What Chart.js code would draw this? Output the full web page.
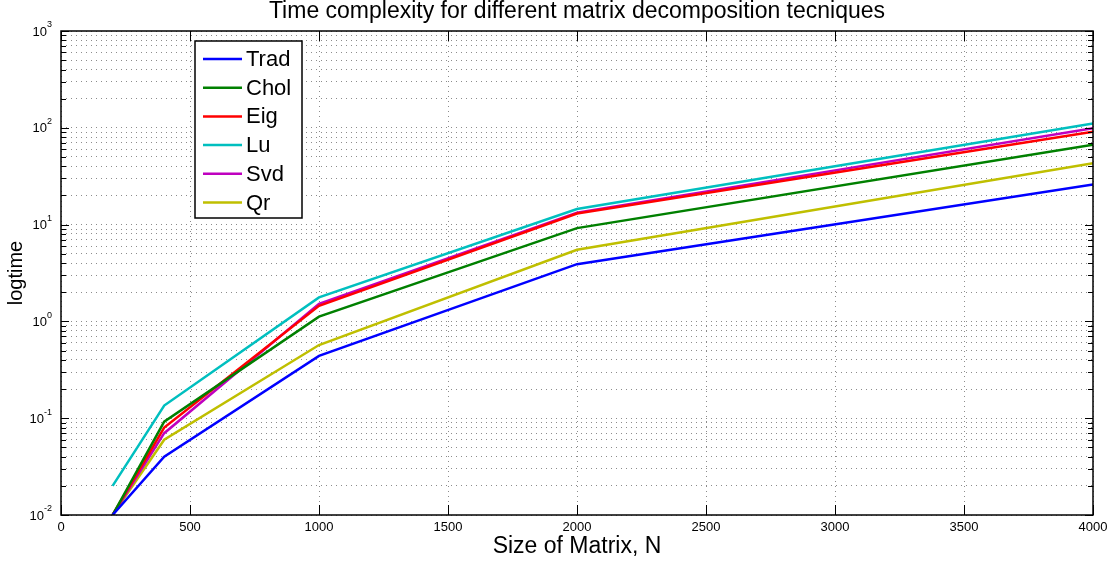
<!DOCTYPE html>
<html>
<head>
<meta charset="utf-8">
<script src="https://cdn.jsdelivr.net/npm/chart.js@4/dist/chart.umd.min.js"></script>
<style>
  html, body { margin: 0; padding: 0; background: #fff; }
  #wrap { width: 1111px; height: 565px; }
</style>
</head>
<body>
<div id="wrap"><canvas id="myChart"></canvas></div>
<script>
// matrix sizes and timings (seconds)
var sizes = [200, 400, 1000, 2000, 4000];
var trad = [0.01, 0.04, 0.44, 3.9, 26];
var chol = [0.01, 0.092, 1.12, 9.2, 67];
var eig  = [0.01, 0.08, 1.45, 13, 91];
var lu   = [0.02, 0.135, 1.77, 14.5, 111];
var svd  = [0.01, 0.07, 1.52, 13.3, 99];
var qr   = [0.01, 0.06, 0.57, 5.5, 43];

var seriesNames = ['Trad', 'Chol', 'Eig', 'Lu', 'Svd', 'Qr'];
var seriesData = [trad, chol, eig, lu, svd, qr];
var seriesColors = ['#0000ff', '#008000', '#ff0000', '#00bfbf', '#bf00bf', '#bfbf00'];

var xTicks = [0, 500, 1000, 1500, 2000, 2500, 3000, 3500, 4000];
var yDecades = [-2, -1, 0, 1, 2, 3];

var FONT = '"Liberation Sans", Arial, sans-serif';

function toPoints(vals) {
  return sizes.map(function (s, i) { return { x: s, y: vals[i] }; });
}

var datasets = seriesNames.map(function (name, i) {
  return {
    label: name,
    data: toPoints(seriesData[i]),
    borderColor: seriesColors[i],
    backgroundColor: seriesColors[i],
    borderWidth: 2.5,
    pointRadius: 0,
    tension: 0
  };
});

// log ticks: 1..9 x 10^n
function logTicks() {
  var t = [];
  for (var e = -2; e < 3; e++) {
    for (var m = 1; m < 10; m++) t.push({ value: m * Math.pow(10, e) });
  }
  t.push({ value: 1000 });
  return t;
}

// MATLAB-ish frame: box, inward ticks, labels, titles and legend
var matlabFrame = {
  id: 'matlabFrame',
  afterDraw: function (chart) {
    var ctx = chart.ctx;
    var a = chart.chartArea;
    var xs = chart.scales.x, ys = chart.scales.y;
    ctx.save();

    // box
    ctx.strokeStyle = '#000';
    ctx.lineWidth = 1.5;
    ctx.strokeRect(a.left, a.top, a.right - a.left, a.bottom - a.top);

    // ticks
    ctx.lineWidth = 1;
    ctx.beginPath();
    xTicks.forEach(function (v) {
      var px = Math.round(xs.getPixelForValue(v)) + 0.5;
      ctx.moveTo(px, a.bottom); ctx.lineTo(px, a.bottom - 10);
      ctx.moveTo(px, a.top); ctx.lineTo(px, a.top + 10);
    });
    logTicks().forEach(function (t) {
      var py = Math.round(ys.getPixelForValue(t.value)) + 0.5;
      var major = Math.abs(Math.log10(t.value) - Math.round(Math.log10(t.value))) < 1e-9;
      var len = major ? 8 : 5;
      ctx.moveTo(a.left, py); ctx.lineTo(a.left + len, py);
      ctx.moveTo(a.right, py); ctx.lineTo(a.right - len, py);
    });
    ctx.stroke();

    // x tick labels
    ctx.fillStyle = '#000';
    ctx.font = '13px ' + FONT;
    ctx.textAlign = 'center';
    ctx.textBaseline = 'top';
    xTicks.forEach(function (v) {
      ctx.fillText(String(v), xs.getPixelForValue(v), a.bottom + 6);
    });

    // y tick labels 10^n
    yDecades.forEach(function (e) {
      var py = ys.getPixelForValue(Math.pow(10, e));
      ctx.textBaseline = 'middle';
      var expStr = String(e);
      ctx.font = '9px ' + FONT;
      var ew = ctx.measureText(expStr).width;
      ctx.textAlign = 'left';
      ctx.fillText(expStr, a.left - 9 - ew, py - 6);
      ctx.font = '13px ' + FONT;
      ctx.textAlign = 'right';
      ctx.fillText('10', a.left - 9 - ew, py + 1);
    });

    // title
    ctx.font = '23px ' + FONT;
    ctx.textAlign = 'center';
    ctx.textBaseline = 'middle';
    ctx.fillText('Time complexity for different matrix decomposition tecniques', (a.left + a.right) / 2, 12);

    // x axis title
    ctx.font = '23px ' + FONT;
    ctx.fillText('Size of Matrix, N', (a.left + a.right) / 2, 547);

    // y axis title
    ctx.save();
    ctx.translate(16, (a.top + a.bottom) / 2);
    ctx.rotate(-Math.PI / 2);
    ctx.font = '20px ' + FONT;
    ctx.fillText('logtime', 0, 0);
    ctx.restore();

    // legend box
    var lx = 195, ly = 41, lw = 107, rowH = 28.7;
    var lh = 177;
    ctx.fillStyle = '#fff';
    ctx.fillRect(lx, ly, lw, lh);
    ctx.strokeStyle = '#000';
    ctx.lineWidth = 1.5;
    ctx.strokeRect(lx, ly, lw, lh);
    ctx.font = '22px ' + FONT;
    ctx.textAlign = 'left';
    ctx.textBaseline = 'middle';
    seriesNames.forEach(function (name, i) {
      var cy = ly + 18 + i * rowH;
      ctx.strokeStyle = seriesColors[i];
      ctx.lineWidth = 2.5;
      ctx.beginPath();
      ctx.moveTo(lx + 8, cy);
      ctx.lineTo(lx + 47, cy);
      ctx.stroke();
      ctx.fillStyle = '#000';
      ctx.fillText(name, lx + 51, cy + 1);
    });

    ctx.restore();
  }
};

var gridOpts = { color: '#8c8c8c', drawTicks: false, lineWidth: 1 };
var borderOpts = { display: false, dash: [1, 4] };

var ctx = document.getElementById('myChart').getContext('2d');
var myChart = new Chart(ctx, {
  type: 'line',
  data: { datasets: datasets },
  options: {
    responsive: true,
    maintainAspectRatio: false,
    animation: false,
    layout: { padding: { left: 61, right: 18, top: 31, bottom: 50 } },
    plugins: {
      legend: { display: false },
      tooltip: { enabled: false },
      title: { display: false }
    },
    scales: {
      x: {
        type: 'linear',
        min: 0,
        max: 4000,
        afterBuildTicks: function (scale) {
          scale.ticks = xTicks.map(function (v) { return { value: v }; });
        },
        ticks: { display: false },
        border: borderOpts,
        grid: gridOpts
      },
      y: {
        type: 'logarithmic',
        min: 0.01,
        max: 1000,
        afterBuildTicks: function (scale) {
          scale.ticks = logTicks();
        },
        ticks: { display: false },
        border: borderOpts,
        grid: gridOpts
      }
    }
  },
  plugins: [matlabFrame]
});
</script>
</body>
</html>
